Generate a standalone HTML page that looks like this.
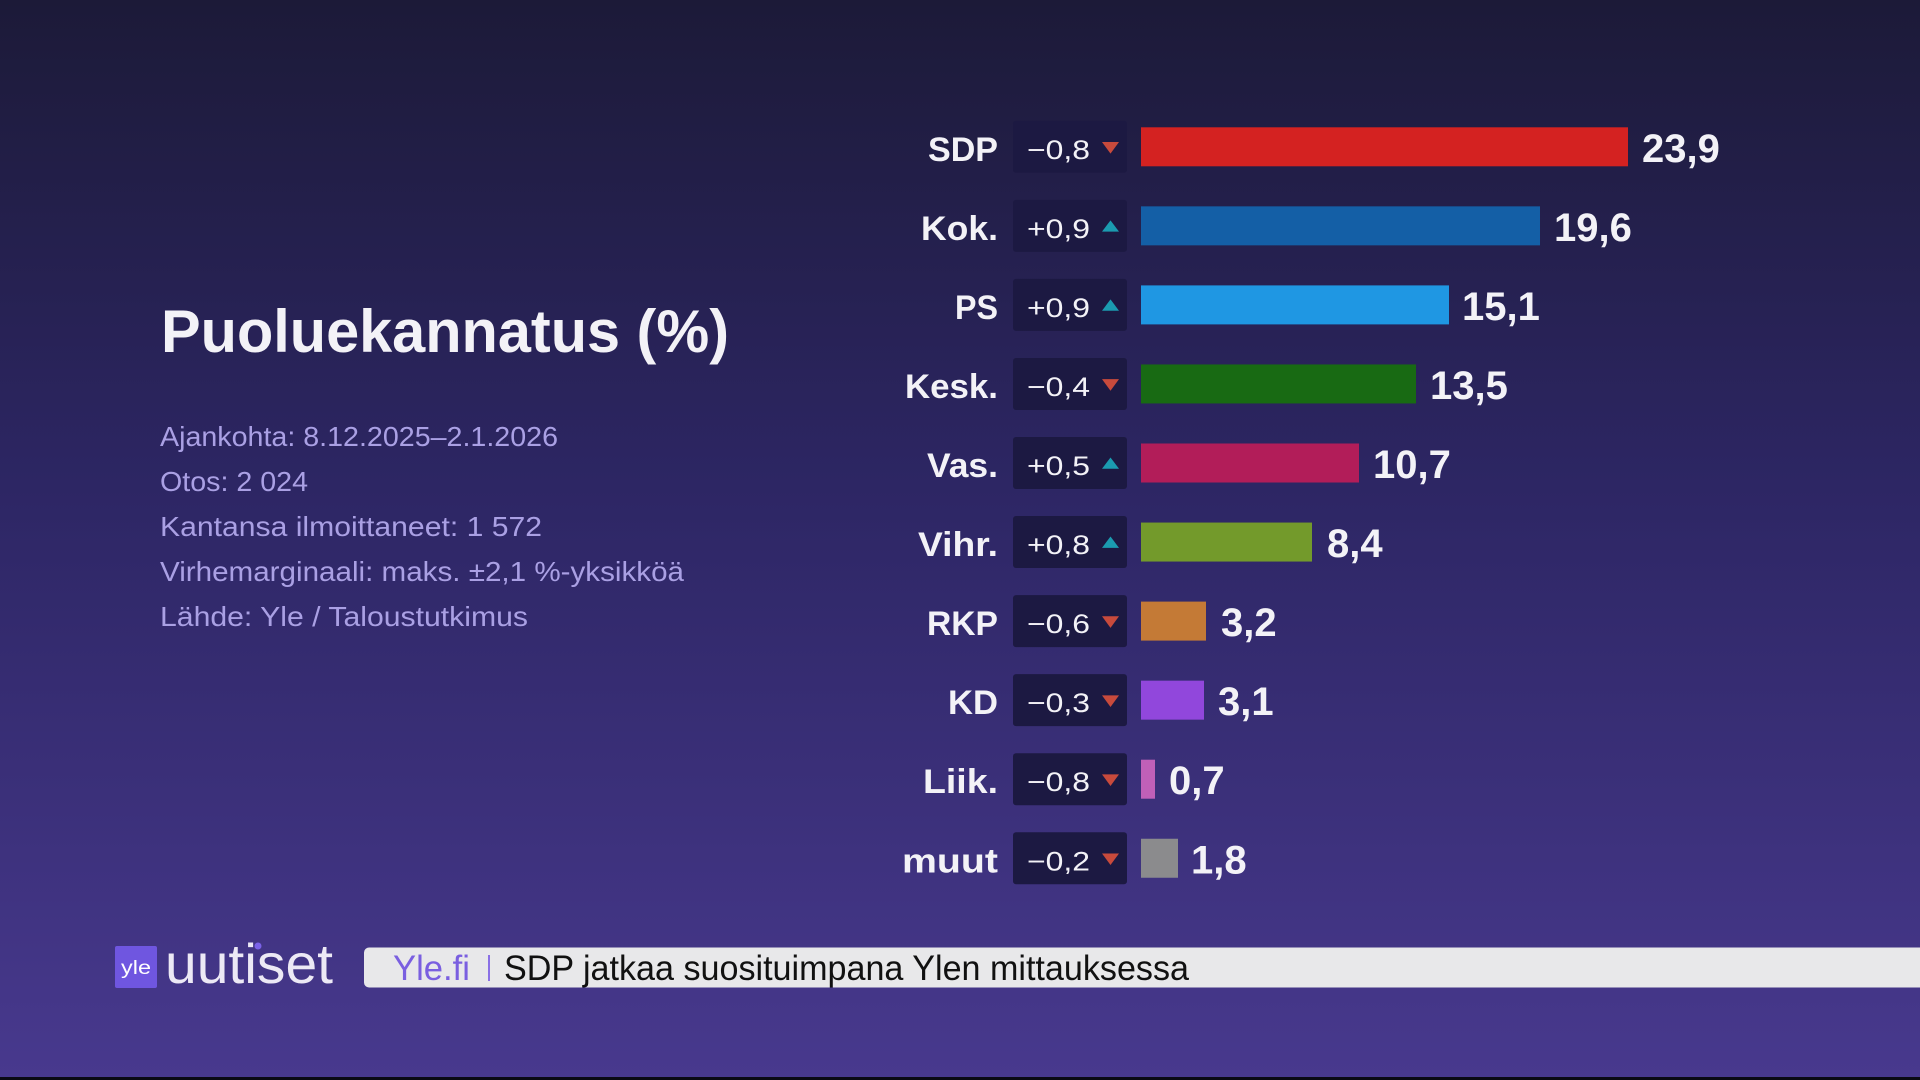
<!DOCTYPE html>
<html><head><meta charset="utf-8"><style>
html,body{margin:0;padding:0;background:#1c1a38;}
svg{display:block;}
</style></head><body>
<svg width="1920" height="1080" viewBox="0 0 1920 1080" xmlns="http://www.w3.org/2000/svg">
<defs>
<linearGradient id="bg" x1="0" y1="0" x2="0" y2="1">
<stop offset="0" stop-color="#1c1a38"/>
<stop offset="0.45" stop-color="#2d2664"/>
<stop offset="1" stop-color="#48398e"/>
</linearGradient>
</defs>
<rect width="1920" height="1080" fill="url(#bg)"/>
<rect x="0" y="1077" width="1920" height="3" fill="#0a0a14"/>

<g font-family="Liberation Sans, sans-serif">
<text x="161" y="352" font-size="60" font-weight="bold" fill="#f3f2f7" textLength="568" lengthAdjust="spacingAndGlyphs">Puoluekannatus (%)</text>
<g font-size="28" fill="#aaa0e4">
<text x="160" y="446" textLength="398" lengthAdjust="spacingAndGlyphs">Ajankohta: 8.12.2025–2.1.2026</text>
<text x="160" y="491" textLength="148" lengthAdjust="spacingAndGlyphs">Otos: 2 024</text>
<text x="160" y="536" textLength="382" lengthAdjust="spacingAndGlyphs">Kantansa ilmoittaneet: 1 572</text>
<text x="160" y="581" textLength="524" lengthAdjust="spacingAndGlyphs">Virhemarginaali: maks. ±2,1 %-yksikköä</text>
<text x="160" y="626" textLength="368" lengthAdjust="spacingAndGlyphs">Lähde: Yle / Taloustutkimus</text>
</g>

<!-- rows -->
<g id="rows">
<!-- SDP c=146.8 -->
<g transform="translate(0,146.8)">
<text x="998" y="14" font-size="34" font-weight="bold" fill="#f3f2f7" text-anchor="end" textLength="70" lengthAdjust="spacingAndGlyphs">SDP</text>
<rect x="1013" y="-26" width="114" height="52" rx="3" fill="#1c1942"/>
<text x="1027" y="12" font-size="27" fill="#f3f2f7" textLength="63" lengthAdjust="spacingAndGlyphs">−0,8</text>
<polygon points="1102,-4.8 1119,-4.8 1110.5,6.8" fill="#c84a3c"/>
<rect x="1141" y="-19.5" width="487" height="39" fill="#d42221"/>
<text x="1642" y="15" font-size="40" font-weight="bold" fill="#f3f2f7">23,9</text>
</g>
<!-- Kok -->
<g transform="translate(0,225.85)">
<text x="998" y="14" font-size="34" font-weight="bold" fill="#f3f2f7" text-anchor="end" textLength="77" lengthAdjust="spacingAndGlyphs">Kok.</text>
<rect x="1013" y="-26" width="114" height="52" rx="3" fill="#1c1942"/>
<text x="1027" y="12" font-size="27" fill="#f3f2f7" textLength="63" lengthAdjust="spacingAndGlyphs">+0,9</text>
<polygon points="1102,5.8 1119,5.8 1110.5,-5.5" fill="#1b9bb0"/>
<rect x="1141" y="-19.5" width="399" height="39" fill="#145fa6"/>
<text x="1554" y="15" font-size="40" font-weight="bold" fill="#f3f2f7">19,6</text>
</g>
<!-- PS -->
<g transform="translate(0,304.9)">
<text x="998" y="14" font-size="34" font-weight="bold" fill="#f3f2f7" text-anchor="end" textLength="43" lengthAdjust="spacingAndGlyphs">PS</text>
<rect x="1013" y="-26" width="114" height="52" rx="3" fill="#1c1942"/>
<text x="1027" y="12" font-size="27" fill="#f3f2f7" textLength="63" lengthAdjust="spacingAndGlyphs">+0,9</text>
<polygon points="1102,5.8 1119,5.8 1110.5,-5.5" fill="#1b9bb0"/>
<rect x="1141" y="-19.5" width="308" height="39" fill="#1f97e3"/>
<text x="1462" y="15" font-size="40" font-weight="bold" fill="#f3f2f7">15,1</text>
</g>
<!-- Kesk -->
<g transform="translate(0,383.95)">
<text x="998" y="14" font-size="34" font-weight="bold" fill="#f3f2f7" text-anchor="end" textLength="93" lengthAdjust="spacingAndGlyphs">Kesk.</text>
<rect x="1013" y="-26" width="114" height="52" rx="3" fill="#1c1942"/>
<text x="1027" y="12" font-size="27" fill="#f3f2f7" textLength="63" lengthAdjust="spacingAndGlyphs">−0,4</text>
<polygon points="1102,-4.8 1119,-4.8 1110.5,6.8" fill="#c84a3c"/>
<rect x="1141" y="-19.5" width="275" height="39" fill="#186a13"/>
<text x="1430" y="15" font-size="40" font-weight="bold" fill="#f3f2f7">13,5</text>
</g>
<!-- Vas -->
<g transform="translate(0,463)">
<text x="998" y="14" font-size="34" font-weight="bold" fill="#f3f2f7" text-anchor="end" textLength="71" lengthAdjust="spacingAndGlyphs">Vas.</text>
<rect x="1013" y="-26" width="114" height="52" rx="3" fill="#1c1942"/>
<text x="1027" y="12" font-size="27" fill="#f3f2f7" textLength="63" lengthAdjust="spacingAndGlyphs">+0,5</text>
<polygon points="1102,5.8 1119,5.8 1110.5,-5.5" fill="#1b9bb0"/>
<rect x="1141" y="-19.5" width="218" height="39" fill="#b21d59"/>
<text x="1373" y="15" font-size="40" font-weight="bold" fill="#f3f2f7">10,7</text>
</g>
<!-- Vihr -->
<g transform="translate(0,542.05)">
<text x="998" y="14" font-size="34" font-weight="bold" fill="#f3f2f7" text-anchor="end" textLength="80" lengthAdjust="spacingAndGlyphs">Vihr.</text>
<rect x="1013" y="-26" width="114" height="52" rx="3" fill="#1c1942"/>
<text x="1027" y="12" font-size="27" fill="#f3f2f7" textLength="63" lengthAdjust="spacingAndGlyphs">+0,8</text>
<polygon points="1102,5.8 1119,5.8 1110.5,-5.5" fill="#1b9bb0"/>
<rect x="1141" y="-19.5" width="171" height="39" fill="#739a2b"/>
<text x="1327" y="15" font-size="40" font-weight="bold" fill="#f3f2f7">8,4</text>
</g>
<!-- RKP -->
<g transform="translate(0,621.1)">
<text x="998" y="14" font-size="34" font-weight="bold" fill="#f3f2f7" text-anchor="end" textLength="71" lengthAdjust="spacingAndGlyphs">RKP</text>
<rect x="1013" y="-26" width="114" height="52" rx="3" fill="#1c1942"/>
<text x="1027" y="12" font-size="27" fill="#f3f2f7" textLength="63" lengthAdjust="spacingAndGlyphs">−0,6</text>
<polygon points="1102,-4.8 1119,-4.8 1110.5,6.8" fill="#c84a3c"/>
<rect x="1141" y="-19.5" width="65" height="39" fill="#c47a36"/>
<text x="1221" y="15" font-size="40" font-weight="bold" fill="#f3f2f7">3,2</text>
</g>
<!-- KD -->
<g transform="translate(0,700.15)">
<text x="998" y="14" font-size="34" font-weight="bold" fill="#f3f2f7" text-anchor="end" textLength="50" lengthAdjust="spacingAndGlyphs">KD</text>
<rect x="1013" y="-26" width="114" height="52" rx="3" fill="#1c1942"/>
<text x="1027" y="12" font-size="27" fill="#f3f2f7" textLength="63" lengthAdjust="spacingAndGlyphs">−0,3</text>
<polygon points="1102,-4.8 1119,-4.8 1110.5,6.8" fill="#c84a3c"/>
<rect x="1141" y="-19.5" width="63" height="39" fill="#9147dc"/>
<text x="1218" y="15" font-size="40" font-weight="bold" fill="#f3f2f7">3,1</text>
</g>
<!-- Liik -->
<g transform="translate(0,779.2)">
<text x="998" y="14" font-size="34" font-weight="bold" fill="#f3f2f7" text-anchor="end" textLength="75" lengthAdjust="spacingAndGlyphs">Liik.</text>
<rect x="1013" y="-26" width="114" height="52" rx="3" fill="#1c1942"/>
<text x="1027" y="12" font-size="27" fill="#f3f2f7" textLength="63" lengthAdjust="spacingAndGlyphs">−0,8</text>
<polygon points="1102,-4.8 1119,-4.8 1110.5,6.8" fill="#c84a3c"/>
<rect x="1141" y="-19.5" width="14" height="39" fill="#c060b8"/>
<text x="1169" y="15" font-size="40" font-weight="bold" fill="#f3f2f7">0,7</text>
</g>
<!-- muut -->
<g transform="translate(0,858.25)">
<text x="998" y="14" font-size="34" font-weight="bold" fill="#f3f2f7" text-anchor="end" textLength="96" lengthAdjust="spacingAndGlyphs">muut</text>
<rect x="1013" y="-26" width="114" height="52" rx="3" fill="#1c1942"/>
<text x="1027" y="12" font-size="27" fill="#f3f2f7" textLength="63" lengthAdjust="spacingAndGlyphs">−0,2</text>
<polygon points="1102,-4.8 1119,-4.8 1110.5,6.8" fill="#c84a3c"/>
<rect x="1141" y="-19.5" width="37" height="39" fill="#8b8b8d"/>
<text x="1191" y="15" font-size="40" font-weight="bold" fill="#f3f2f7">1,8</text>
</g>
</g>

<!-- footer -->
<rect x="115" y="946" width="42" height="42" rx="2" fill="#6f56e0"/>
<text x="136" y="974" font-size="19" fill="#ffffff" text-anchor="middle" textLength="30" lengthAdjust="spacingAndGlyphs">yle</text>
<text x="165" y="983" font-size="56" fill="#ece9f5" textLength="168" lengthAdjust="spacingAndGlyphs">uutiset</text>
<circle cx="258" cy="946" r="3.5" fill="#7b62e8"/>
<rect x="364" y="947.5" width="1570" height="40" rx="5" fill="#e8e8ea"/>
<text x="393" y="980" font-size="35" fill="#7a5fe0" textLength="77" lengthAdjust="spacingAndGlyphs">Yle.fi</text>
<rect x="488" y="955" width="2" height="26" fill="#8a70e6"/>
<text x="504" y="980" font-size="35" fill="#111111" textLength="685" lengthAdjust="spacingAndGlyphs">SDP jatkaa suosituimpana Ylen mittauksessa</text>
</g>
</svg>
</body></html>
